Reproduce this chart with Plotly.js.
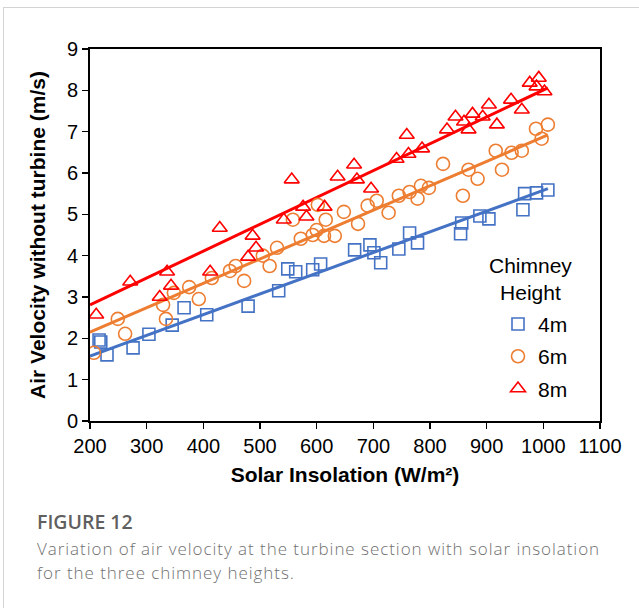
<!DOCTYPE html>
<html>
<head>
<meta charset="utf-8">
<script src="https://cdn.plot.ly/plotly-3.0.1.min.js"></script>
<style>
  html, body { margin: 0; padding: 0; background: #fff; }
  #wrap { position: relative; width: 639px; height: 608px; overflow: hidden; }
  #frame { position: absolute; left: 3px; top: 7px; width: 640px; height: 620px; border: 1px solid #d4d4d4; box-sizing: border-box; }
  #chart { position: absolute; left: 0; top: 0; width: 639px; height: 608px; }
  .cap { position: absolute; left: 37px; font-family: "Open Sans", "Noto Sans", sans-serif; white-space: nowrap; }
  #fig { top: 508px; font-size: 19.5px; font-weight: 600; color: #5f5f5f; }
  .txt { font-size: 17px; line-height: 23px; letter-spacing: 0.95px; font-weight: 300; color: #707070; }
  #txt1 { top: 537px; }
  #txt2 { top: 560.5px; }
</style>
</head>
<body>
<div id="wrap">
  <div id="frame"></div>
  <div id="chart"></div>
  <div id="fig" class="cap">FIGURE 12</div>
  <div id="txt1" class="cap txt">Variation of air velocity at the turbine section with solar insolation</div>
  <div id="txt2" class="cap txt">for the three chimney heights.</div>
</div>
<script>
// Chimney height 4 m
const x4 = [216, 219, 230, 276, 304, 345, 366, 406, 479, 533, 549, 563, 593, 607, 667, 694, 701, 713, 745, 764, 778, 854, 856, 888, 904, 964, 967, 988, 1008];
const y4 = [1.96, 1.91, 1.60, 1.77, 2.10, 2.32, 2.74, 2.57, 2.78, 3.15, 3.68, 3.61, 3.66, 3.80, 4.14, 4.26, 4.07, 3.83, 4.16, 4.55, 4.31, 4.53, 4.79, 4.96, 4.89, 5.11, 5.50, 5.52, 5.59];
// Chimney height 6 m
const x6 = [207, 249, 262, 329, 334, 348, 375, 392, 415, 447, 457, 472, 505, 517, 530, 558, 572, 593, 600, 602, 613, 616, 632, 648, 673, 690, 706, 727, 745, 764, 778, 784, 798, 823, 858, 868, 884, 916, 927, 944, 962, 987, 997, 1008];
const y6 = [1.65, 2.47, 2.11, 2.81, 2.47, 3.10, 3.24, 2.95, 3.46, 3.63, 3.75, 3.39, 4.00, 3.75, 4.19, 4.87, 4.41, 4.50, 4.62, 5.23, 4.48, 4.87, 4.48, 5.06, 4.77, 5.21, 5.33, 5.04, 5.45, 5.54, 5.38, 5.69, 5.64, 6.22, 5.45, 6.08, 5.86, 6.54, 6.08, 6.49, 6.54, 7.07, 6.83, 7.17];
// Chimney height 8 m
const x8 = [211, 271, 323, 336, 343, 412, 429, 479, 487, 493, 542, 556, 576, 582, 614, 637, 666, 671, 696, 741, 759, 762, 786, 830, 845, 860, 868, 875, 893, 904, 918, 943, 962, 976, 988, 992, 1002];
const y8 = [2.57, 3.37, 3.00, 3.61, 3.27, 3.61, 4.67, 3.97, 4.48, 4.19, 4.87, 5.84, 5.18, 4.94, 5.18, 5.91, 6.20, 5.84, 5.62, 6.34, 6.92, 6.46, 6.59, 7.05, 7.36, 7.24, 7.05, 7.43, 7.36, 7.65, 7.17, 7.77, 7.53, 8.18, 8.09, 8.30, 7.97];
// Linear trend lines (end points)
const trendX = [200, 1008];
const trend4 = [1.57, 5.62];
const trend6 = [2.15, 6.92];
const trend8 = [2.81, 8.06];

const names = ['4m', '6m', '8m'];
const legendTitle = 'Chimney<br>Height';
const colors = ['#4472C4', '#ED7D31', '#FF0000'];
const F = '"Liberation Sans", Arial, sans-serif';

const traces = [
  {x: trendX, y: trend4, mode: 'lines', line: {color: colors[0], width: 3}, showlegend: false, hoverinfo: 'skip'},
  {x: trendX, y: trend6, mode: 'lines', line: {color: colors[1], width: 3}, showlegend: false, hoverinfo: 'skip'},
  {x: trendX, y: trend8, mode: 'lines', line: {color: colors[2], width: 3}, showlegend: false, hoverinfo: 'skip'},
  {x: x4, y: y4, name: names[0], legendgroup: 'a', mode: 'markers', marker: {symbol: 'square-open', size: 12, color: colors[0], line: {width: 1.6}}},
  {x: x6, y: y6, name: names[1], legendgroup: 'b', mode: 'markers', marker: {symbol: 'circle-open', size: 13, color: colors[1], line: {width: 1.6}}},
  {x: x8, y: y8, name: names[2], legendgroup: 'c', mode: 'markers', marker: {symbol: 'triangle-up-open', size: 13, color: colors[2], line: {width: 1.6}}}
];

const layout = {
  width: 639, height: 608,
  margin: {l: 90, r: 39, t: 49, b: 187},
  paper_bgcolor: 'rgba(0,0,0,0)',
  plot_bgcolor: '#fff',
  font: {family: F, size: 20, color: '#000'},
  showlegend: true,
  legend: {
    x: 0.80, y: 0.315, xanchor: 'left', yanchor: 'top',
    bgcolor: 'rgba(0,0,0,0)',
    font: {family: F, size: 21, color: '#000'},
    tracegroupgap: 2,
    traceorder: 'grouped',
    itemwidth: 30
  },
  annotations: [{
    xref: 'paper', yref: 'paper', x: 0.864, y: 0.382, xanchor: 'center', yanchor: 'middle',
    text: legendTitle, showarrow: false, align: 'center',
    font: {family: F, size: 21, color: '#000'}
  }],
  xaxis: {
    range: [200, 1100], dtick: 100, tick0: 200,
    showgrid: false, zeroline: false,
    showline: true, linecolor: '#000', linewidth: 2, mirror: true,
    ticks: 'outside', ticklen: 6, tickwidth: 1.5, tickcolor: '#000',
    tickfont: {family: F, size: 20, color: '#000'},
    title: {text: '<b>Solar Insolation (W/m²)</b>', font: {family: F, size: 21, color: '#000'}, standoff: 11}
  },
  yaxis: {
    range: [0, 9], dtick: 1,
    showgrid: false, zeroline: false,
    showline: true, linecolor: '#000', linewidth: 2, mirror: true,
    ticks: 'outside', ticklen: 6, tickwidth: 1.5, tickcolor: '#000',
    tickfont: {family: F, size: 20, color: '#000'},
    title: {text: '<b>Air Velocity without turbine (m/s)</b>', font: {family: F, size: 21, color: '#000'}, standoff: 16}
  }
};

Plotly.newPlot('chart', traces, layout, {displayModeBar: false, staticPlot: true});
</script>
</body>
</html>
